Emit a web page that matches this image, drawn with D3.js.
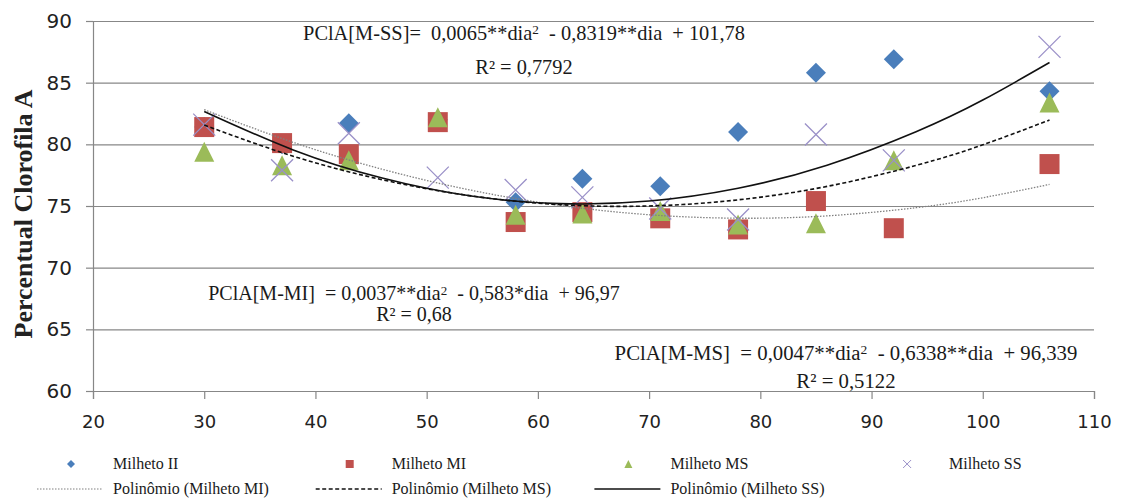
<!DOCTYPE html>
<html>
<head>
<meta charset="utf-8">
<script src="https://cdn.jsdelivr.net/npm/d3@7"></script>
<style>
  body { margin: 0; background: #fff; }
  svg { display: block; }
  .serif { font-family: 'Liberation Serif', 'Times New Roman', 'DejaVu Serif', serif; }
</style>
</head>
<body>
<svg id="chart"></svg>
<script>
// days after sowing (x) and measured values per series
var days = [30, 37, 43, 51, 58, 64, 71, 78, 85, 92, 106];
var milhetoII = [81.4, 80.0, 81.7, 82.0, 75.3, 77.2, 76.6, 81.0, 85.8, 86.9, 84.3];
var milhetoMI = [81.4, 80.1, 79.2, 81.8, 73.7, 74.5, 74.0, 73.1, 75.4, 73.2, 78.4];
var milhetoMS = [79.4, 78.3, 78.7, 82.2, 74.3, 74.4, 74.6, 73.5, 73.6, 78.7, 83.4];
var milhetoSS = [81.6, 77.9, 80.9, 77.3, 76.3, 75.7, 74.8, 73.9, 80.8, 78.7, 87.9];

// trendlines
var trendDays = [30, 38, 46, 54, 62, 70, 78, 86, 94, 100, 106];
var trendMI = [82.81, 80.16, 77.98, 76.28, 75.05, 74.29, 74.01, 74.20, 74.86, 75.67, 76.75];
var trendMS = [81.56, 79.04, 77.13, 75.82, 75.11, 75.00, 75.50, 76.59, 78.29, 79.96, 81.97];
var trendSS = [82.67, 79.55, 77.27, 75.81, 75.19, 75.40, 76.44, 78.31, 81.02, 83.59, 86.63];

var xTicks = [20, 30, 40, 50, 60, 70, 80, 90, 100, 110];
var yTicks = [60, 65, 70, 75, 80, 85, 90];

var seriesNames = ["Milheto II", "Milheto MI", "Milheto MS", "Milheto SS"];
var trendNames = ["Polinômio (Milheto MI)", "Polinômio (Milheto MS)", "Polinômio (Milheto SS)"];

var eqSS = ["PClA[M-SS]=  0,0065**dia^2  - 0,8319**dia  + 101,78", "R² = 0,7792"];
var eqMI = ["PClA[M-MI]  = 0,0037**dia^2  - 0,583*dia  + 96,97", "R² = 0,68"];
var eqMS = ["PClA[M-MS]  = 0,0047**dia^2  - 0,6338**dia  + 96,339", "R² = 0,5122"];

var W = 1122, H = 503;
var plot = {left: 93, right: 1094, top: 21, bottom: 391};
var gridColor = "#878787";

var svg = d3.select("#chart").attr("width", W).attr("height", H);
svg.append("rect").attr("width", W).attr("height", H).attr("fill", "#fff");

var x = d3.scaleLinear().domain([20, 110]).range([plot.left, plot.right]);
var y = d3.scaleLinear().domain([60, 90]).range([plot.bottom, plot.top]);

// horizontal grid
svg.append("g").attr("class", "grid")
  .attr("transform", "translate(" + plot.left + ",0)")
  .call(d3.axisLeft(y).tickValues(yTicks.slice(1)).tickSize(-(plot.right - plot.left)).tickFormat(""))
  .call(function(g) { g.select(".domain").remove(); })
  .selectAll("line").attr("stroke", gridColor).attr("stroke-width", 1.2);

// y axis
var yAxis = svg.append("g")
  .attr("transform", "translate(" + plot.left + ",0)")
  .call(d3.axisLeft(y).tickValues(yTicks).tickSize(7).tickPadding(14));
yAxis.select(".domain").attr("stroke", gridColor).attr("stroke-width", 1.2);
yAxis.selectAll("line").attr("stroke", gridColor).attr("stroke-width", 1.2);
yAxis.selectAll("text").attr("font-family", "DejaVu Sans").attr("font-size", 20).attr("fill", "#222");

// x axis
var xAxis = svg.append("g")
  .attr("transform", "translate(0," + plot.bottom + ")")
  .call(d3.axisBottom(x).tickValues(xTicks).tickSize(8).tickPadding(16));
xAxis.select(".domain").attr("stroke", gridColor).attr("stroke-width", 1.2);
xAxis.selectAll("line").attr("stroke", gridColor).attr("stroke-width", 1.2);
xAxis.selectAll("text").attr("font-family", "DejaVu Sans").attr("font-size", 18).attr("fill", "#222");

// y title
svg.append("text")
  .attr("class", "serif")
  .attr("transform", "translate(32," + ((plot.top + plot.bottom) / 2 + 8) + ") rotate(-90)")
  .attr("text-anchor", "middle")
  .attr("font-weight", "bold")
  .attr("font-size", 26)
  .attr("fill", "#222")
  .text("Percentual Clorofila A");

// marker shapes
var diamondType = {draw: function(ctx, size) {
  var r = Math.sqrt(size) / 2;
  ctx.moveTo(0, -r); ctx.lineTo(r, 0); ctx.lineTo(0, r); ctx.lineTo(-r, 0); ctx.closePath();
}};
var triangleType = {draw: function(ctx, size) {
  var r = Math.sqrt(size) / 2;
  ctx.moveTo(0, -r); ctx.lineTo(r, r); ctx.lineTo(-r, r); ctx.closePath();
}};
var crossType = {draw: function(ctx, size) {
  var r = Math.sqrt(size) / 2;
  ctx.moveTo(-r, -r); ctx.lineTo(r, r); ctx.moveTo(r, -r); ctx.lineTo(-r, r);
}};

var series = [
  {name: seriesNames[0], values: milhetoII, type: diamondType, fill: "#4A7EBB", stroke: "none", size: 20},
  {name: seriesNames[1], values: milhetoMI, type: d3.symbolSquare, fill: "#C0504D", stroke: "none", size: 20},
  {name: seriesNames[2], values: milhetoMS, type: triangleType, fill: "#9BBB59", stroke: "none", size: 20},
  {name: seriesNames[3], values: milhetoSS, type: crossType, fill: "none", stroke: "#9A90C8", size: 22}
];

var marks = svg.append("g");
series.forEach(function(s) {
  var sym = d3.symbol().type(s.type).size(s.size * s.size);
  marks.append("g").selectAll("path")
    .data(days.map(function(d, i) { return {x: d, y: s.values[i]}; }))
    .join("path")
    .attr("transform", function(d) { return "translate(" + x(d.x) + "," + y(d.y) + ")"; })
    .attr("d", sym)
    .attr("fill", s.fill)
    .attr("stroke", s.stroke)
    .attr("stroke-width", 1.3);
});

// trend lines
var trends = [
  {name: trendNames[0], values: trendMI, color: "#808080", width: 1.3, dash: "1.5,1.5"},
  {name: trendNames[1], values: trendMS, color: "#111", width: 1.6, dash: "4,2.5"},
  {name: trendNames[2], values: trendSS, color: "#111", width: 1.6, dash: null}
];
var line = d3.line()
  .x(function(d) { return x(d.x); })
  .y(function(d) { return y(d.y); })
  .curve(d3.curveNatural);
trends.forEach(function(t) {
  svg.append("path")
    .datum(trendDays.map(function(d, i) { return {x: d, y: t.values[i]}; }))
    .attr("fill", "none")
    .attr("stroke", t.color)
    .attr("stroke-width", t.width)
    .attr("stroke-dasharray", t.dash)
    .attr("d", line);
});

// equation labels, first line sized to the width it takes in the original
function equation(lines, cx, baselines, targetWidth) {
  var nodes = lines.map(function(str, i) {
    var t = svg.append("text")
      .attr("class", "serif")
      .attr("x", cx).attr("y", baselines[i])
      .attr("text-anchor", "middle")
      .attr("font-size", 20)
      .attr("fill", "#1a1a1a")
      .style("white-space", "pre");
    var parts = str.split("^2");
    t.append("tspan").text(parts[0]);
    if (parts.length > 1) {
      t.append("tspan").attr("dy", "-0.42em").attr("font-size", "0.65em").text("2");
      t.append("tspan").attr("dy", "0.27em").text(parts[1]);
    }
    return t;
  });
  var w = nodes[0].node().getComputedTextLength();
  var fs = 20 * targetWidth / w;
  nodes.forEach(function(t) { t.attr("font-size", fs); });
}
equation(eqSS, 524, [40, 74], 442);
equation(eqMI, 414, [300, 321], 412);
equation(eqMS, 846, [360, 388], 463);

// legend
var pitch = 278.7;
var legend = svg.append("g").attr("class", "serif").attr("font-size", 16).attr("fill", "#1a1a1a");
series.forEach(function(s, i) {
  var tx = 113 + i * pitch;
  legend.append("path")
    .attr("transform", "translate(" + (tx - 42) + ",464)")
    .attr("d", d3.symbol().type(s.type).size(64))
    .attr("fill", s.fill)
    .attr("stroke", s.stroke)
    .attr("stroke-width", 1);
  legend.append("text").attr("x", tx).attr("y", 469).text(s.name);
});
trends.forEach(function(t, i) {
  var tx = 113 + i * pitch;
  legend.append("line")
    .attr("x1", tx - 76).attr("x2", tx - 10)
    .attr("y1", 489).attr("y2", 489)
    .attr("stroke", t.color)
    .attr("stroke-width", t.width * 0.8)
    .attr("stroke-dasharray", t.dash);
  legend.append("text").attr("x", tx).attr("y", 494).text(t.name);
});
// fit legend text to the original width of the first trend label
var lw = legend.selectAll("text").filter(function(d, i) { return i === 4; }).node().getComputedTextLength();
legend.attr("font-size", 16 * 156 / lw);
</script>
</body>
</html>
